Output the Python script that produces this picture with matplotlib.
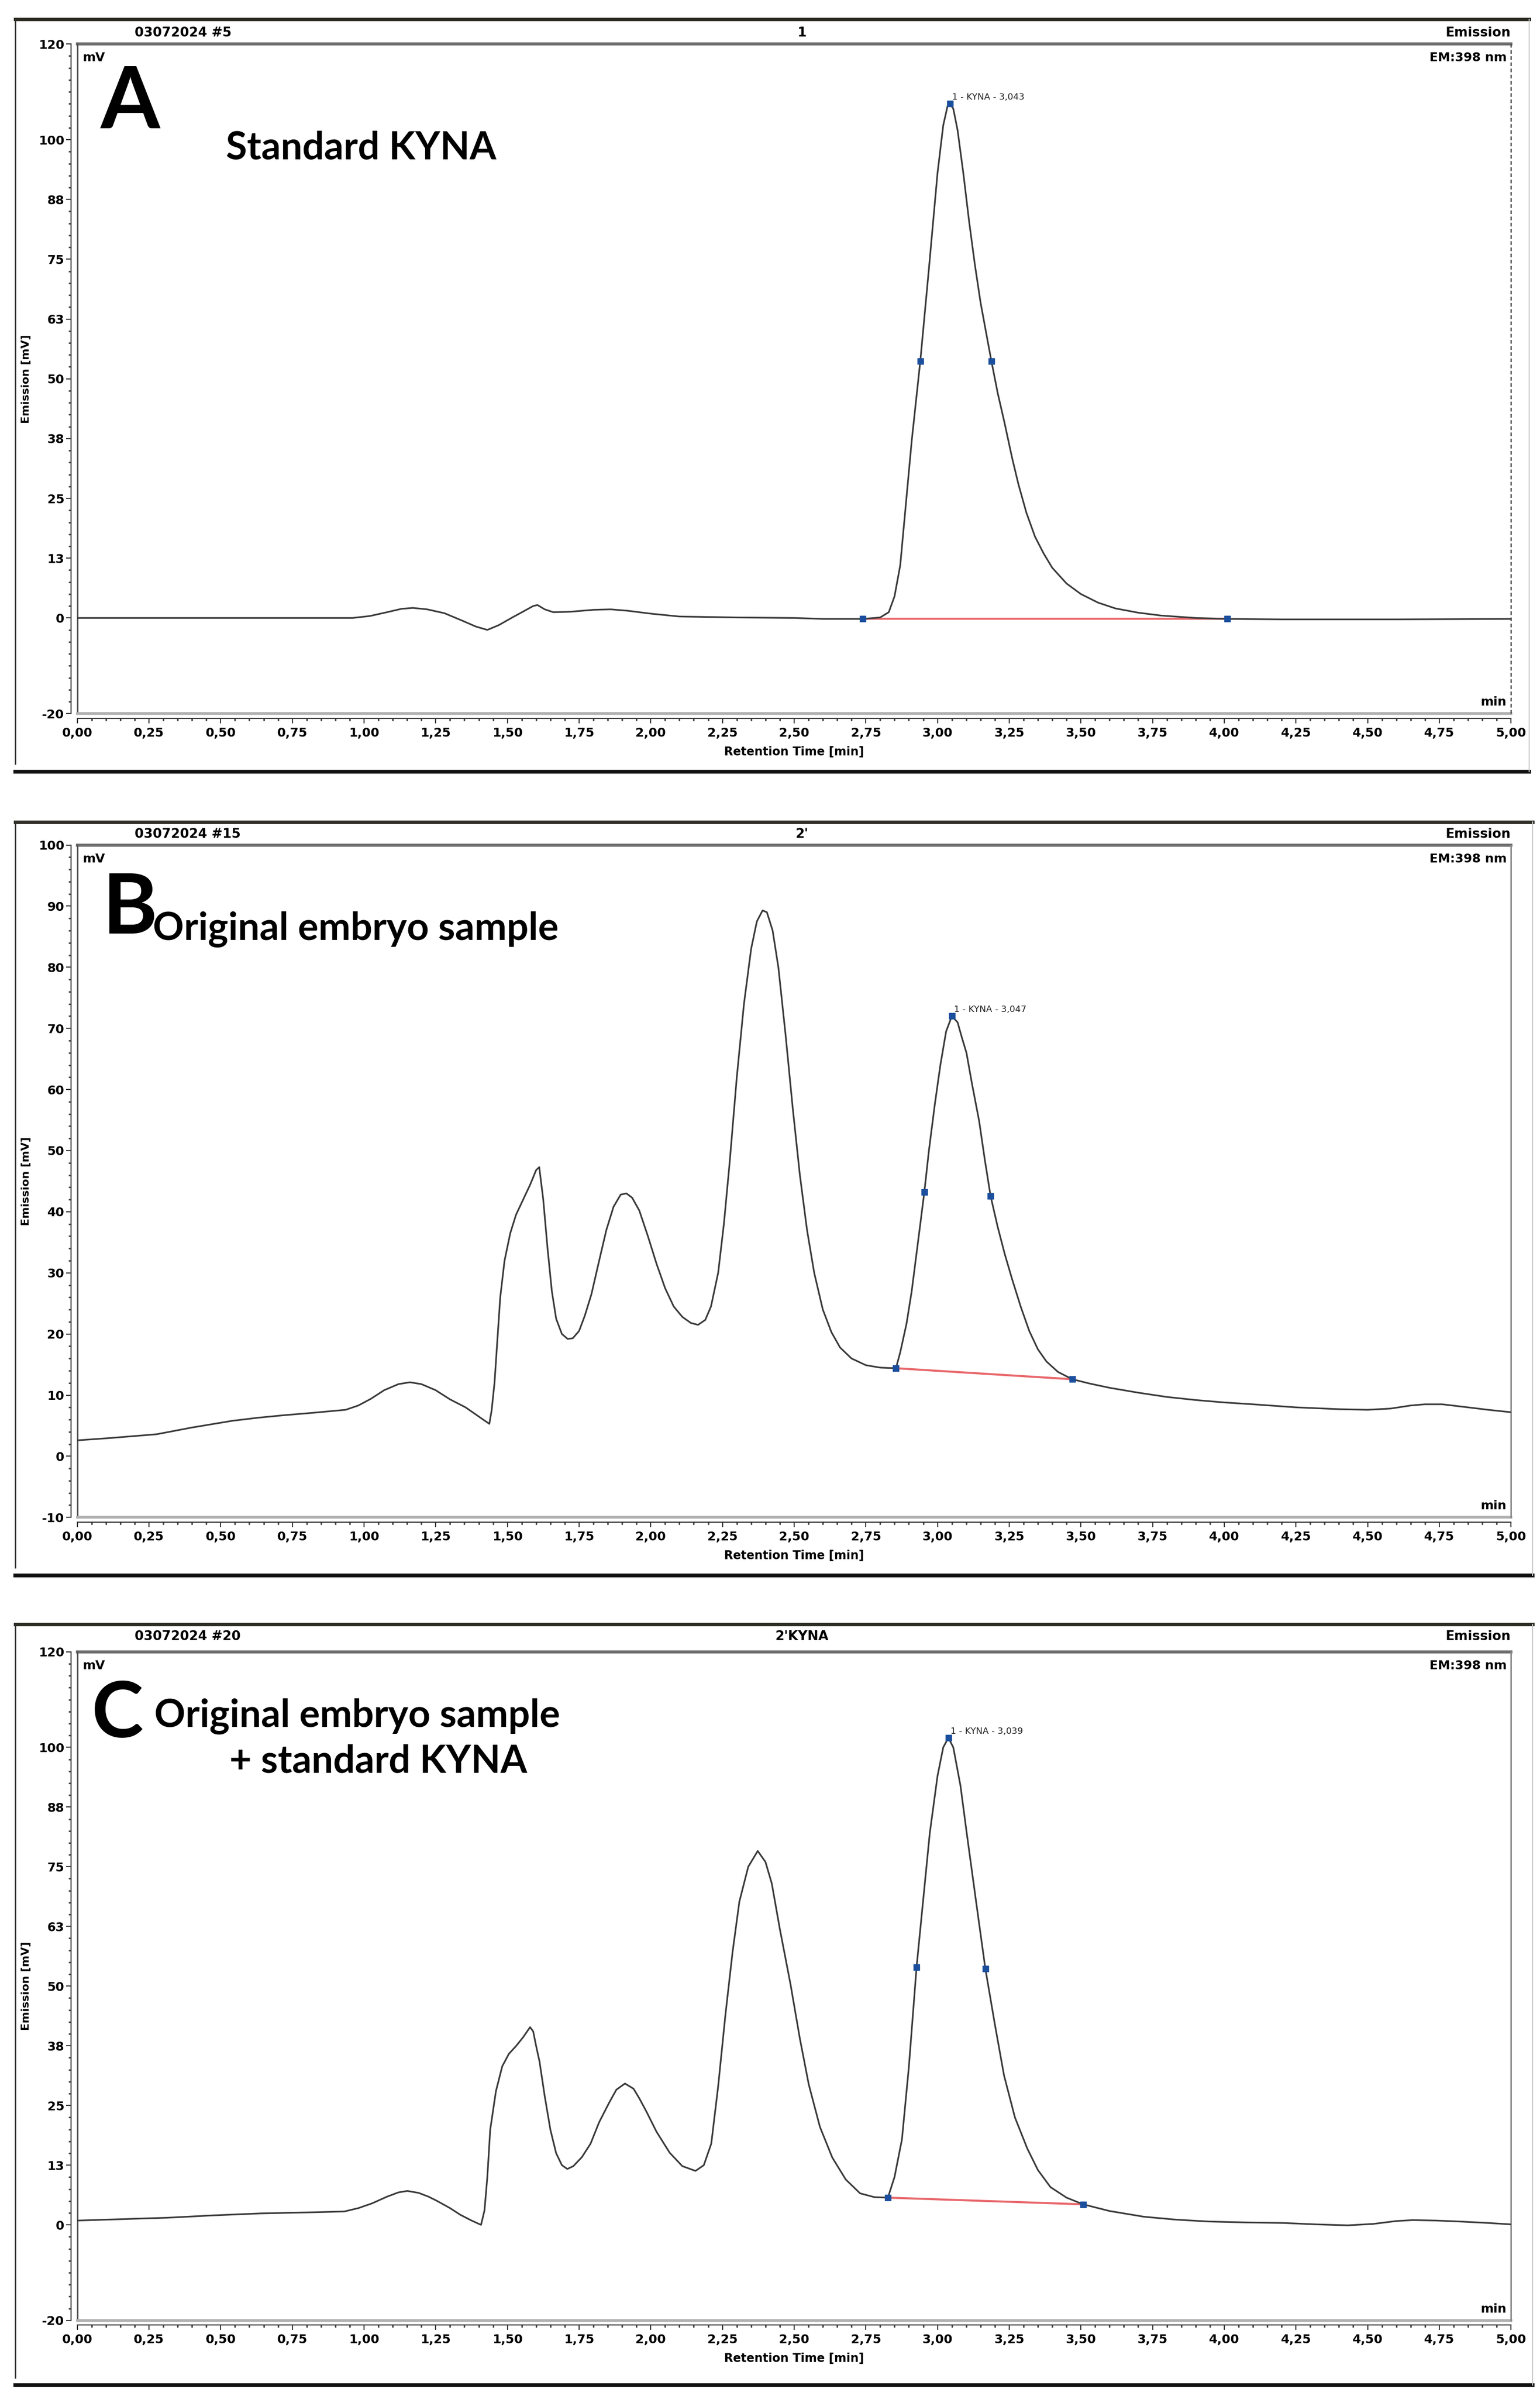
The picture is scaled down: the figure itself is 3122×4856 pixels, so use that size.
import numpy as np
import matplotlib.pyplot as plt
from matplotlib.lines import Line2D

plt.rcParams['font.family'] = ['Liberation Sans Narrow', 'DejaVu Sans']
plt.rcParams['font.weight'] = 'bold'

# ---- chromatogram traces (time in min, signal in mV) ----
time_a = [0.00, 0.50, 0.96, 1.02, 1.08, 1.13, 1.17, 1.22, 1.28, 1.34, 1.39, 1.43, 1.47,
          1.52, 1.56, 1.59, 1.605, 1.63, 1.66, 1.72, 1.80, 1.86, 1.92, 2.00, 2.10, 2.30,
          2.50, 2.60, 2.74, 2.80, 2.83, 2.85, 2.87, 2.89, 2.91, 2.94, 2.97, 3.00, 3.02,
          3.035, 3.043, 3.055, 3.07, 3.09, 3.11, 3.13, 3.15, 3.17, 3.188, 3.21, 3.233,
          3.26, 3.282, 3.31, 3.34, 3.37, 3.40, 3.45, 3.50, 3.56, 3.62, 3.70, 3.78, 3.90,
          4.01, 4.20, 4.60, 5.00]
signal_a = [0.0, 0.0, 0.0, 0.4, 1.2, 1.9, 2.1, 1.8, 1.0, -0.5, -1.8, -2.5, -1.5,
            0.2, 1.5, 2.5, 2.7, 1.8, 1.2, 1.3, 1.7, 1.8, 1.5, 0.9, 0.3, 0.1,
            0.0, -0.2, -0.2, 0.1, 1.2, 4.5, 11.0, 24.0, 37.0, 53.7, 73.0, 93.0, 103.0,
            107.0, 107.5, 106.5, 102.0, 93.0, 83.0, 74.0, 66.0, 59.5, 53.7, 47.0, 41.0,
            33.5, 28.0, 22.0, 17.0, 13.5, 10.5, 7.2, 5.0, 3.2, 2.0, 1.1, 0.5, 0.0,
            -0.2, -0.3, -0.3, -0.2]
marks_a_t = [2.74, 2.94, 3.043, 3.188, 4.01]
marks_a_v = [-0.2, 53.7, 107.5, 53.7, -0.2]

time_b = [0.00, 0.12, 0.277, 0.40, 0.541, 0.63, 0.718, 0.82, 0.936, 0.98, 1.024, 1.07,
          1.12, 1.16, 1.20, 1.25, 1.30, 1.354, 1.40, 1.437, 1.445, 1.455, 1.465, 1.475,
          1.49, 1.51, 1.53, 1.555, 1.58, 1.60, 1.611, 1.625, 1.64, 1.655, 1.67, 1.69,
          1.71, 1.728, 1.75, 1.77, 1.793, 1.82, 1.845, 1.87, 1.895, 1.915, 1.935, 1.96,
          1.99, 2.02, 2.05, 2.08, 2.11, 2.14, 2.165, 2.19, 2.21, 2.235, 2.255, 2.275,
          2.30, 2.325, 2.35, 2.37, 2.39, 2.405, 2.425, 2.445, 2.47, 2.495, 2.52, 2.545,
          2.57, 2.60, 2.63, 2.66, 2.70, 2.75, 2.80, 2.855, 2.87, 2.892, 2.91, 2.925,
          2.94, 2.954, 2.97, 2.991, 3.01, 3.03, 3.05, 3.07, 3.085, 3.101, 3.12, 3.145,
          3.165, 3.185, 3.21, 3.235, 3.26, 3.29, 3.32, 3.35, 3.38, 3.42, 3.47, 3.53,
          3.60, 3.70, 3.80, 3.90, 4.00, 4.10, 4.25, 4.40, 4.50, 4.58, 4.65, 4.70, 4.76,
          4.85, 4.92, 5.00]
signal_b = [2.6, 3.0, 3.6, 4.7, 5.8, 6.3, 6.7, 7.1, 7.6, 8.3, 9.4, 10.8,
            11.8, 12.1, 11.8, 10.8, 9.3, 8.0, 6.5, 5.3, 7.5, 12.0, 19.0, 26.0,
            32.0, 36.5, 39.5, 42.0, 44.5, 46.8, 47.3, 42.0, 34.0, 27.0, 22.5, 20.0,
            19.2, 19.3, 20.5, 23.0, 26.5, 32.0, 37.0, 40.8, 42.8, 43.0, 42.3, 40.2,
            36.0, 31.5, 27.5, 24.5, 22.8, 21.8, 21.5, 22.3, 24.5, 30.0, 38.0, 48.0,
            62.0, 74.0, 83.0, 87.5, 89.3, 89.0, 86.0, 80.0, 69.0, 57.0, 46.0, 37.0,
            30.0, 24.0, 20.3, 17.8, 16.0, 14.9, 14.5, 14.4, 17.0, 21.7, 27.0, 32.5,
            38.0, 43.2, 50.0, 57.7, 64.0, 69.5, 72.0, 71.0, 68.5, 66.0, 61.0, 54.9,
            48.5, 42.6, 37.5, 33.0, 29.0, 24.5, 20.5, 17.5, 15.5, 13.8, 12.6, 11.9,
            11.2, 10.4, 9.7, 9.2, 8.8, 8.5, 8.0, 7.7, 7.6, 7.8, 8.3, 8.5, 8.5,
            8.0, 7.6, 7.2]
marks_b_t = [2.855, 2.954, 3.050, 3.185, 3.47]
marks_b_v = [14.4, 43.2, 72.0, 42.6, 12.6]

time_c = [0.00, 0.16, 0.316, 0.48, 0.64, 0.80, 0.931, 0.98, 1.028, 1.08, 1.12, 1.151,
          1.19, 1.225, 1.255, 1.30, 1.336, 1.375, 1.408, 1.42, 1.43, 1.44, 1.46, 1.482,
          1.505, 1.531, 1.555, 1.579, 1.59, 1.60, 1.612, 1.63, 1.65, 1.67, 1.69, 1.709,
          1.73, 1.76, 1.79, 1.82, 1.855, 1.88, 1.91, 1.94, 1.96, 1.985, 2.02, 2.066,
          2.11, 2.156, 2.185, 2.211, 2.235, 2.26, 2.285, 2.309, 2.34, 2.373, 2.40, 2.422,
          2.45, 2.487, 2.52, 2.551, 2.59, 2.633, 2.68, 2.73, 2.78, 2.827, 2.85, 2.876,
          2.90, 2.927, 2.95, 2.973, 3.00, 3.02, 3.038, 3.055, 3.08, 3.102, 3.135, 3.167,
          3.20, 3.232, 3.27, 3.313, 3.35, 3.394, 3.45, 3.508, 3.60, 3.72, 3.83, 3.945,
          4.08, 4.205, 4.32, 4.431, 4.52, 4.60, 4.658, 4.74, 4.82, 4.92, 5.00]
signal_c = [0.9, 1.2, 1.5, 2.0, 2.4, 2.6, 2.8, 3.5, 4.5, 5.9, 6.8, 7.1,
            6.7, 5.9, 5.0, 3.5, 2.1, 0.9, 0.0, 3.0, 10.0, 19.9, 28.0, 33.2,
            35.8, 37.5, 39.3, 41.4, 40.5, 37.5, 34.2, 27.0, 19.9, 15.0, 12.5, 11.7,
            12.3, 14.2, 17.0, 21.5, 25.6, 28.3, 29.6, 28.5, 26.5, 23.7, 19.5, 15.1,
            12.3, 11.3, 12.5, 17.0, 29.0, 43.8, 57.0, 67.7, 75.0, 78.3, 76.0, 71.5,
            62.0, 50.5, 39.0, 29.4, 20.5, 14.1, 9.5, 6.6, 5.8, 5.7, 10.0, 17.9,
            33.0, 54.0, 68.0, 82.0, 94.0, 100.0, 102.0, 100.0, 92.0, 82.0, 67.5, 53.6,
            42.0, 31.3, 22.5, 16.0, 11.5, 7.9, 5.7, 4.3, 2.9, 1.7, 1.1, 0.7,
            0.5, 0.4, 0.1, -0.1, 0.2, 0.8, 1.0, 0.9, 0.7, 0.4, 0.1]
marks_c_t = [2.827, 2.927, 3.038, 3.167, 3.508]
marks_c_v = [5.7, 54.0, 102.0, 53.6, 4.3]

# axis ticks
x_major = [0.0, 0.25, 0.5, 0.75, 1.0, 1.25, 1.5, 1.75, 2.0, 2.25, 2.5, 2.75,
           3.0, 3.25, 3.5, 3.75, 4.0, 4.25, 4.5, 4.75, 5.0]
x_labels = [('%.2f' % v).replace('.', ',') for v in x_major]
y_ticks_ac = [-20, 0, 12.5, 25, 37.5, 50, 62.5, 75, 87.5, 100, 120]
y_labels_ac = ['-20', '0', '13', '25', '38', '50', '63', '75', '88', '100', '120']
y_ticks_b = [-10, 0, 10, 20, 30, 40, 50, 60, 70, 80, 90, 100]
y_labels_b = ['-10', '0', '10', '20', '30', '40', '50', '60', '70', '80', '90', '100']

# layout grid of the reference (1008 x 1568 units)
W, H = 1008.0, 1568.0


def fx(x):
    return x / W


def fy(y):
    return 1.0 - y / H


fig = plt.figure(figsize=(31.22, 48.56), dpi=100)


def frame(top, bottom, left, right):
    fig.add_artist(Line2D([fx(left), fx(right)], [fy(top)] * 2, color='#2d2d26', lw=5))
    fig.add_artist(Line2D([fx(left), fx(right)], [fy(bottom)] * 2, color='#111111', lw=5.5))
    fig.add_artist(Line2D([fx(left)] * 2, [fy(top), fy(bottom - 5)], color='#333333', lw=2))
    fig.add_artist(Line2D([fx(right)] * 2, [fy(top), fy(bottom)], color='#c8c8c8', lw=1.5))


def panel(t, v, mt, mv, yt, yl, ylim, minor_step, box, header, hy, peak_text, dashed_right):
    x0, x1, ytop, ybot = box
    ax = fig.add_axes([fx(x0), fy(ybot), fx(x1) - fx(x0), fy(ytop) - fy(ybot)])
    ax.plot(t, v, color='#3a3a3a', lw=2.4, zorder=3, solid_joinstyle='round')
    ax.plot([mt[0], mt[-1]], [mv[0], mv[-1]], color='#e8676b', lw=3, zorder=2)
    ax.plot(mt, mv, 's', color='#1b4f9e', ms=8, zorder=4)
    ax.annotate(peak_text, (mt[2], mv[2]), xytext=(3, 3), textcoords='offset points',
                fontsize=13, fontweight='normal', color='#222222', ha='left', va='bottom')
    ax.set_xlim(0, 5)
    ax.set_ylim(*ylim)

    ax.set_xticks(x_major)
    ax.set_xticklabels(x_labels)
    ax.set_xticks(np.arange(0, 5.001, 0.05), minor=True)
    ax.set_yticks(yt)
    ax.set_yticklabels(yl)
    ax.set_yticks(np.arange(ylim[0], ylim[1] + 0.01, minor_step), minor=True)
    ax.tick_params(axis='both', which='major', direction='out', length=7, width=1.6,
                   color='#333333', labelsize=18)
    ax.tick_params(axis='both', which='minor', direction='out', length=3.5, width=2.2,
                   color='#444444')
    ax.tick_params(axis='x', pad=6)
    ax.tick_params(axis='y', pad=3)

    for s in ['top', 'right']:
        ax.spines[s].set_visible(False)
    ax.spines['left'].set_position(('outward', 9))
    ax.spines['bottom'].set_position(('outward', 7))
    for s in ['left', 'bottom']:
        ax.spines[s].set_linewidth(1.6)
        ax.spines[s].set_color('#333333')

    # plot box
    ax.plot([0, 1], [1, 1], transform=ax.transAxes, color='#6e6e6e', lw=4.5, clip_on=False)
    ax.plot([0, 0], [0, 1], transform=ax.transAxes, color='#555555', lw=2.2, clip_on=False)
    ax.plot([0, 1], [0, 0], transform=ax.transAxes, color='#b0b0b0', lw=4, clip_on=False)
    if dashed_right:
        ax.plot([1, 1], [0, 1], transform=ax.transAxes, color='#444444', lw=1.8,
                ls=(0, (3, 2)), clip_on=False)
    else:
        ax.plot([1, 1], [0, 1], transform=ax.transAxes, color='#8a8a8a', lw=2.2, clip_on=False)

    ax.text(0.004, 0.988, 'mV', transform=ax.transAxes, ha='left', va='top', fontsize=18)
    ax.text(0.997, 0.988, 'EM:398 nm', transform=ax.transAxes, ha='right', va='top', fontsize=18)
    ax.text(0.997, 0.008, 'min', transform=ax.transAxes, ha='right', va='bottom', fontsize=18)

    fig.text(fx(88), fy(hy), header[0], ha='left', va='center', fontsize=19)
    fig.text(fx(525), fy(hy), header[1], ha='center', va='center', fontsize=19)
    fig.text(fx(x1), fy(hy), header[2], ha='right', va='center', fontsize=19)
    fig.text(fx((x0 + x1) / 2), fy(ybot + 25), 'Retention Time [min]', ha='center',
             va='center', fontsize=17)
    fig.text(fx(17), fy((ytop + ybot) / 2), 'Emission [mV]', rotation=90, ha='center',
             va='center', fontsize=16)
    return ax


big = dict(family=['Lato', 'DejaVu Sans'], fontweight='bold', color='black', va='baseline')

# panel A
frame(12.7, 505, 10, 1001)
panel(time_a, signal_a, marks_a_t, marks_a_v, y_ticks_ac, y_labels_ac, (-20, 120), 2.5,
      (50.6, 989, 28.8, 467), ('03072024 #5', '1', 'Emission'), 21.6,
      '1 - KYNA - 3,043', True)
fig.text(fx(66), fy(84), 'A', fontsize=125, **big)
fig.text(fx(148), fy(104), 'Standard KYNA', fontsize=56, **big)

# panel B
frame(538, 1031, 10, 1003)
panel(time_b, signal_b, marks_b_t, marks_b_v, y_ticks_b, y_labels_b, (-10, 100), 2,
      (50.6, 989, 553, 993), ('03072024 #15', "2'", 'Emission'), 546,
      '1 - KYNA - 3,047', False)
fig.text(fx(67), fy(611), 'B', fontsize=122, **big)
fig.text(fx(100), fy(615), 'Original embryo sample', fontsize=56, **big)

# panel C
frame(1063, 1561, 10, 1003)
panel(time_c, signal_c, marks_c_t, marks_c_v, y_ticks_ac, y_labels_ac, (-20, 120), 2.5,
      (50.6, 989, 1081, 1518.5), ('03072024 #20', "2'KYNA", 'Emission'), 1071,
      '1 - KYNA - 3,039', False)
fig.text(fx(60), fy(1137), 'C', fontsize=114, **big)
fig.text(fx(101), fy(1130), 'Original embryo sample', fontsize=56, **big)
fig.text(fx(150), fy(1160), '+ standard KYNA', fontsize=56, **big)

fig.savefig('out.png', dpi=100, facecolor='white')
